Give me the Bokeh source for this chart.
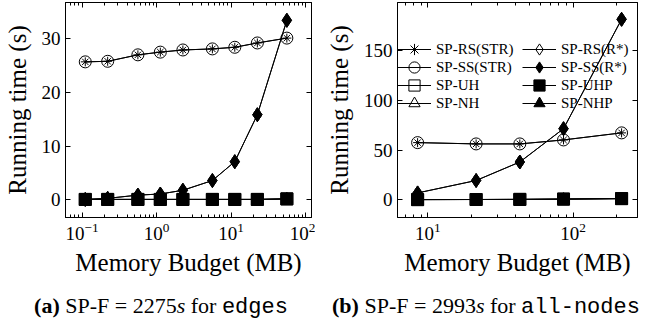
from bokeh.plotting import figure
from bokeh.models import (Range1d, FixedTicker, LogAxis, LinearAxis, Legend,
                          LegendItem, Div, CustomJSTickFormatter)
from bokeh.layouts import row, column
from bokeh.embed import file_html
from bokeh.resources import INLINE

FONT = "Liberation Serif"

# ---------------- data: (a) edges ----------------
mem_a = [0.11, 0.22, 0.56, 1.12, 2.25, 5.6, 11.2, 22.5, 56]
rs_str_a = [25.6, 25.7, 26.9, 27.4, 27.8, 28.0, 28.3, 29.1, 30.0]
ss_str_a = [25.6, 25.7, 26.9, 27.4, 27.8, 28.0, 28.3, 29.1, 30.0]
rs_rstar_a = [0.1, 0.3, 0.9, 1.1, 1.8, 3.6, 7.1, 15.8, 33.3]
ss_rstar_a = [0.1, 0.3, 0.9, 1.1, 1.8, 3.6, 7.1, 15.8, 33.3]
uh_a = [0.1, 0.1, 0.1, 0.1, 0.1, 0.1, 0.1, 0.1, 0.2]
uhp_a = [0.1, 0.1, 0.1, 0.1, 0.1, 0.1, 0.1, 0.1, 0.2]
nh_a = [0.1, 0.1, 0.1, 0.1, 0.1, 0.1, 0.1, 0.1, 0.2]
nhp_a = [0.1, 0.1, 0.1, 0.1, 0.1, 0.1, 0.1, 0.1, 0.2]

# ---------------- data: (b) all-nodes ----------------
mem_b = [8.5, 21.5, 43, 86, 216]
rs_str_b = [57.7, 56.4, 56.4, 60.4, 67.5]
ss_str_b = [57.7, 56.4, 56.4, 60.4, 67.5]
rs_rstar_b = [7.1, 19.6, 38.2, 71.7, 181.7]
ss_rstar_b = [7.1, 19.6, 38.2, 71.7, 181.7]
uh_b = [0.4, 0.5, 0.6, 0.9, 1.4]
uhp_b = [0.4, 0.5, 0.6, 0.9, 1.4]
nh_b = [0.4, 0.5, 0.6, 0.9, 1.4]
nhp_b = [0.4, 0.5, 0.6, 0.9, 1.4]

series_names = ["SP-RS(STR)", "SP-RS(R*)", "SP-SS(STR)", "SP-SS(R*)",
                "SP-UH", "SP-UHP", "SP-NH", "SP-NHP"]
series_a = [rs_str_a, rs_rstar_a, ss_str_a, ss_rstar_a, uh_a, uhp_a, nh_a, nhp_a]
series_b = [rs_str_b, rs_rstar_b, ss_str_b, ss_rstar_b, uh_b, uhp_b, nh_b, nhp_b]

# marker, filled, size
styles = [("asterisk", False, 9), ("diamond", False, 14), ("circle", False, 12),
          ("diamond", True, 14), ("square", False, 12), ("square", True, 12),
          ("triangle", False, 11), ("triangle", True, 11)]

xticks_a = [0.1, 1, 10, 100]
xminor_a = [0.06, 0.07, 0.08, 0.09, 0.2, 0.3, 0.4, 0.5, 0.6, 0.7, 0.8, 0.9,
            2, 3, 4, 5, 6, 7, 8, 9, 20, 30, 40, 50, 60, 70, 80, 90]
yticks_a = [0, 10, 20, 30]
xticks_b = [10, 100]
xminor_b = [7, 8, 9, 20, 30, 40, 50, 60, 70, 80, 90, 200]
yticks_b = [0, 50, 100, 150]

FRAME_H = 215


def make_fig(xs, ys_list, xr, yr, xt, xm, yt, fwidth, left, legend):
    p = figure(frame_width=fwidth, frame_height=FRAME_H, x_axis_type="log",
               x_range=Range1d(*xr), y_range=Range1d(*yr),
               output_backend="svg", toolbar_location=None,
               min_border_left=left, min_border_right=4,
               min_border_top=2, min_border_bottom=62)
    p.xgrid.visible = False
    p.ygrid.visible = False
    p.outline_line_color = "black"
    p.outline_line_alpha = 1
    p.outline_line_width = 1
    p.background_fill_color = "white"
    p.border_fill_color = "white"

    xtick = FixedTicker(ticks=xt, minor_ticks=xm)
    ytick = FixedTicker(ticks=yt, minor_ticks=[])
    p.xaxis.ticker = xtick
    p.yaxis.ticker = ytick
    for ax in (p.xaxis[0], p.yaxis[0]):
        ax.major_tick_in = 5
        ax.major_tick_out = 0
        ax.minor_tick_in = 3
        ax.minor_tick_out = 0
        ax.axis_line_color = "black"
        ax.major_label_text_font = FONT
        ax.major_label_text_font_size = "19px"
        ax.major_label_text_color = "black"
        ax.axis_label_text_font = FONT
        ax.axis_label_text_font_size = "25px"
        ax.axis_label_text_font_style = "normal"
        ax.axis_label_text_color = "black"
        ax.major_label_standoff = 5
    p.xaxis.axis_label = "Memory Budget (MB)"
    p.yaxis.axis_label = "Running time (s)"
    p.xaxis.axis_label_standoff = 6
    p.yaxis.axis_label_standoff = 8

    blank = CustomJSTickFormatter(code="return ''")
    top = LogAxis(ticker=xtick, major_tick_in=5, major_tick_out=0,
                  minor_tick_in=3, minor_tick_out=0, formatter=blank,
                  major_label_text_font_size="1px", major_label_standoff=0)
    p.add_layout(top, "above")
    right = LinearAxis(ticker=ytick, major_tick_in=5, major_tick_out=0,
                       minor_tick_in=0, minor_tick_out=0, formatter=blank,
                       major_label_text_font_size="1px", major_label_standoff=0)
    p.add_layout(right, "right")

    items = []
    for name, ys, (mk, filled, sz) in zip(series_names, ys_list, styles):
        l = p.line(xs, ys, line_color="black", line_width=1)
        s = p.scatter(xs, ys, marker=mk, size=sz, line_color="black",
                      line_width=1,
                      fill_color="black" if filled else None)
        items.append(LegendItem(label=name, renderers=[l, s]))

    if legend:
        # one single-entry legend per cell: 2 columns x 4 rows
        col_x = [0, 125]
        row_centers = [47, 65, 83, 101]   # px below the frame top
        for i, item in enumerate(items):
            c, r = i % 2, i // 2
            lg = Legend(items=[item],
                        location=(col_x[c], FRAME_H - row_centers[r] - 14),
                        background_fill_alpha=0, border_line_alpha=0,
                        padding=0, margin=0, spacing=0,
                        glyph_width=34, glyph_height=28, label_standoff=5,
                        label_text_font=FONT, label_text_font_size="15px",
                        label_text_color="black")
            p.add_layout(lg, "center")
    return p


p1 = make_fig(mem_a, series_a, (0.0597, 120), (-3.25, 36.6),
              xticks_a, xminor_a, yticks_a, 246, 62, False)
p2 = make_fig(mem_b, series_b, (6.18, 278), (-17.6, 198.6),
              xticks_b, xminor_b, yticks_b, 240, 72, True)

cap_style = {"text-align": "center", "font-family": FONT,
             "font-size": "22px", "color": "black", "white-space": "nowrap"}
mono = "<span style=\"font-family:'Liberation Mono'\">"
d1 = Div(text="<div style='margin-top:6px;white-space:nowrap'><b>(a)</b> SP-F = 2275<i>s</i> for "
         + mono + "edges</span></div>",
         width=312, height=34, styles=cap_style)
d2 = Div(text="<div style='margin-top:6px;white-space:nowrap'><b>(b)</b> SP-F = 2993<i>s</i> for "
         + mono + "all-nodes</span></div>",
         width=318, height=34, styles=cap_style)

layout = row(column(p1, d1), column(p2, d2))
open("out.html", "w").write(file_html(layout, INLINE))
